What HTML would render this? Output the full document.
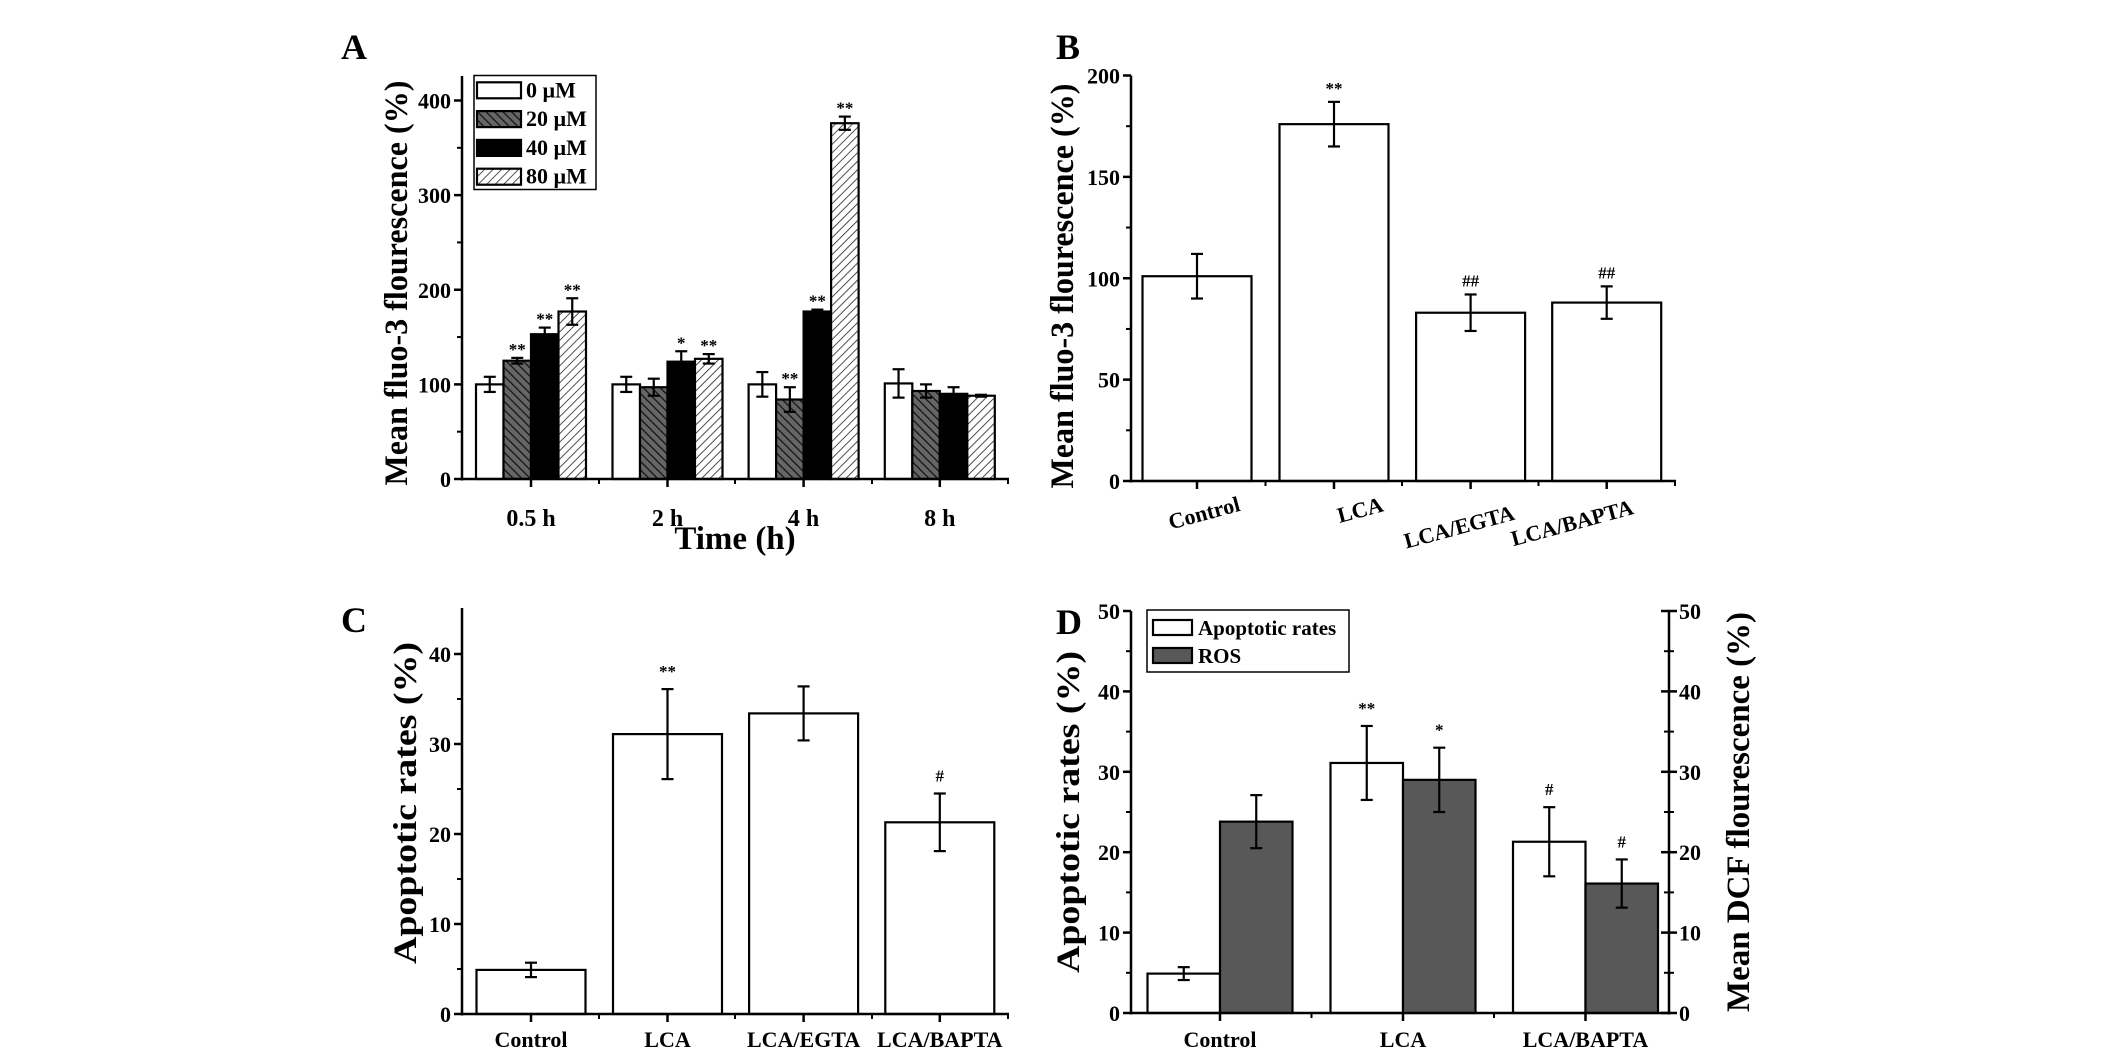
<!DOCTYPE html>
<html><head><meta charset="utf-8"><style>
html,body{margin:0;padding:0;background:#fff;overflow:hidden;}
svg{display:block;font-family:"Liberation Serif",serif;font-weight:bold;}
</style></head><body>
<svg id="fig" width="2126" height="1053" viewBox="0 0 2126 1053" xmlns="http://www.w3.org/2000/svg">
<defs>
<pattern id="hatchDark" patternUnits="userSpaceOnUse" width="6" height="6" patternTransform="rotate(-45)"><rect width="6" height="6" fill="#666"/><line x1="0" y1="0" x2="0" y2="6" stroke="#111" stroke-width="2.5"/></pattern>
<pattern id="hatchLight" patternUnits="userSpaceOnUse" width="6" height="6" patternTransform="rotate(45)"><rect width="6" height="6" fill="#fff"/><line x1="0" y1="0" x2="0" y2="6" stroke="#222" stroke-width="1.6"/></pattern>
</defs>
</svg>
<script>
// ---- Panel A data ----
const aGroups = ["0.5 h","2 h","4 h","8 h"];
const aSeries = ["0 \u00b5M","20 \u00b5M","40 \u00b5M","80 \u00b5M"];
const a0 = [100,100,100,101];
const a20 = [125,97,84,93];
const a40 = [153,124,177,90];
const a80 = [177,127,376,88];
const a0Err = [8,8,13,15];
const a20Err = [3,9,13,7];
const a40Err = [7,11,2,7];
const a80Err = [14,5,7,1];
const a0Sig = ["","","",""];
const a20Sig = ["**","","**",""];
const a40Sig = ["**","*","**",""];
const a80Sig = ["**","**","**",""];
const aTicks = [0,100,200,300,400];
// ---- Panel B data ----
const bCats = ["Control","LCA","LCA/EGTA","LCA/BAPTA"];
const bVals = [101,176,83,88];
const bErr = [11,11,9,8];
const bSig = ["","**","##","##"];
const bTicks = [0,50,100,150,200];
// ---- Panel C data ----
const cCats = ["Control","LCA","LCA/EGTA","LCA/BAPTA"];
const cVals = [4.9,31.1,33.4,21.3];
const cErr = [0.8,5,3,3.2];
const cSig = ["","**","","#"];
const cTicks = [0,10,20,30,40];
// ---- Panel D data ----
const dCats = ["Control","LCA","LCA/BAPTA"];
const dApop = [4.9,31.1,21.3];
const dApopErr = [0.8,4.6,4.3];
const dApopSig = ["","**","#"];
const dRos = [23.8,29,16.1];
const dRosErr = [3.3,4,3];
const dRosSig = ["","*","#"];
const dTicks = [0,10,20,30,40,50];

const svg = document.getElementById('fig');
const NS = "http://www.w3.org/2000/svg";
function mk(tag, attrs, parent){const e=document.createElementNS(NS,tag);for(const k in attrs)e.setAttribute(k,attrs[k]);(parent||svg).appendChild(e);return e;}
function txt(x,y,s,size,anchor,parent,extra){const t=mk('text',Object.assign({x:x,y:y,'font-size':size,'text-anchor':anchor||'middle',fill:'#000'},extra||{}),parent);t.textContent=s;return t;}
function lin(x1,y1,x2,y2,w,parent){return mk('line',{x1:x1,y1:y1,x2:x2,y2:y2,stroke:'#000','stroke-width':w||2.5},parent);}
function scale(d0,d1,r0,r1){return v=>r0+(v-d0)*(r1-r0)/(d1-d0);}
function errbar(g,x,y0,y1,cap){lin(x,y0,x,y1,2.2,g);lin(x-cap,y0,x+cap,y0,2.2,g);lin(x-cap,y1,x+cap,y1,2.2,g);}
const TF=22;

// ================= Panel A =================
(function(){
  const L=mk('g',{});
  
  
  const y=scale(0,400,479,100.5);
  const x0=462,x1=1009,top=76;
  const centers=[531,667.5,803.6,939.8];
  const bw=27.5;
  const fills=['#fff','url(#hatchDark)','#000','url(#hatchLight)'];
  const vals=[a0,a20,a40,a80], errs=[a0Err,a20Err,a40Err,a80Err], sigs=[a0Sig,a20Sig,a40Sig,a80Sig];
  for(let s=0;s<4;s++){
    for(let i=0;i<aGroups.length;i++){
      const bx=centers[i]-2*bw+s*bw;
      const r=mk('rect',{x:bx,y:y(vals[s][i]),width:bw,height:y(0)-y(vals[s][i]),fill:fills[s],stroke:'#000','stroke-width':2.2},L);
      
      
      const cx=bx+bw/2;
      errbar(L,cx,y(vals[s][i]+errs[s][i]),y(vals[s][i]-errs[s][i]),6);
      if(sigs[s][i]) txt(cx,y(vals[s][i]+errs[s][i])-3,sigs[s][i],17,'middle',L);
    }
  }
  lin(x0,top,x0,480.5,2.5,L); lin(x0-1,479,x1,479,2.5,L);
  aTicks.forEach(t=>{lin(x0-8,y(t),x0,y(t),2.5,L);txt(x0-11,y(t)+8,String(t),TF,'end',L);});
  [50,150,250,350].forEach(t=>lin(x0-5,y(t),x0,y(t),2,L));
  centers.forEach((c,i)=>{lin(c,479,c,487,2.5,L);txt(c,526,aGroups[i],24,'middle',L);});
  [599,735,872,1008].forEach(c=>lin(c,479,c,484,2,L));
  const xt=txt(735,549,'Time (h)',33,'middle',L); 
  const yt=txt(0,0,'Mean fluo-3 flourescence (%)',33,'middle',L,{transform:'translate(407,283) rotate(-90)',textLength:405,lengthAdjust:'spacingAndGlyphs'}); 
  const pl=txt(341,59,'A',36,'start',L); 
  const lg=mk('g',{},L);
  
  
  mk('rect',{x:474,y:75.5,width:122,height:114,fill:'#fff',stroke:'#000','stroke-width':1.5},lg);
  const rows=[90.3,119.1,147.9,176.7];
  for(let s=0;s<4;s++){
    const e=mk('g',{},lg);
    
    
    mk('rect',{x:477,y:rows[s]-8,width:44,height:16,fill:fills[s],stroke:'#000','stroke-width':2.2},e);
    txt(526,rows[s]+7,aSeries[s],22,'start',e);
  }
})();

// ================= Panel B =================
(function(){
  const L=mk('g',{});
  
  
  const y=scale(0,200,481,75.5);
  const x0=1131,x1=1676;
  const centers=[1197,1334,1470.6,1606.7];
  const bw=109;
  bCats.forEach((c,i)=>{
    const r=mk('rect',{x:centers[i]-bw/2,y:y(bVals[i]),width:bw,height:y(0)-y(bVals[i]),fill:'#fff',stroke:'#000','stroke-width':2.2},L);
    
    
    errbar(L,centers[i],y(bVals[i]+bErr[i]),y(bVals[i]-bErr[i]),6);
    if(bSig[i]) txt(centers[i],y(bVals[i]+bErr[i])-8,bSig[i],17,'middle',L);
  });
  lin(x0,75.5,x0,482.5,2.5,L); lin(x0-1,481,x1,481,2.5,L);
  bTicks.forEach(t=>{lin(x0-8,y(t),x0,y(t),2.5,L);txt(x0-11,y(t)+8,String(t),TF,'end',L);});
  [25,75,125,175].forEach(t=>lin(x0-5,y(t),x0,y(t),2,L));
  centers.forEach(c=>lin(c,481,c,489,2.5,L));
  [1265.5,1402,1538.5,1675].forEach(c=>lin(c,481,c,486,2,L));
  const lab=[[1206,513],[1362,510],[1461,527],[1574,523]];
  bCats.forEach((c,i)=>{txt(0,0,c,22,'middle',L,{transform:'translate('+lab[i][0]+','+(lab[i][1]+7)+') rotate(-15)'});});
  const yt=txt(0,0,'Mean fluo-3 flourescence (%)',33,'middle',L,{transform:'translate(1073,286) rotate(-90)',textLength:405,lengthAdjust:'spacingAndGlyphs'}); 
  const pl=txt(1056,59,'B',36,'start',L); 
})();

// ================= Panel C =================
(function(){
  const L=mk('g',{});
  
  
  const y=scale(0,40,1014,654);
  const x0=462,x1=1009;
  const centers=[531,667.5,803.6,939.8];
  const bw=109;
  cCats.forEach((c,i)=>{
    const r=mk('rect',{x:centers[i]-bw/2,y:y(cVals[i]),width:bw,height:y(0)-y(cVals[i]),fill:'#fff',stroke:'#000','stroke-width':2.2},L);
    
    
    errbar(L,centers[i],y(cVals[i]+cErr[i]),y(cVals[i]-cErr[i]),6);
    if(cSig[i]) txt(centers[i],y(cVals[i]+cErr[i])-12,cSig[i],17,'middle',L);
  });
  lin(x0,608,x0,1015.5,2.5,L); lin(x0-1,1014,x1,1014,2.5,L);
  cTicks.forEach(t=>{lin(x0-8,y(t),x0,y(t),2.5,L);txt(x0-11,y(t)+8,String(t),TF,'end',L);});
  [5,15,25,35].forEach(t=>lin(x0-5,y(t),x0,y(t),2,L));
  centers.forEach((c,i)=>{lin(c,1014,c,1022,2.5,L);txt(c,1047,cCats[i],22,'middle',L);});
  [599,735,872,1008].forEach(c=>lin(c,1014,c,1019,2,L));
  const yt=txt(0,0,'Apoptotic rates (%)',33,'middle',L,{transform:'translate(416,803) rotate(-90)',textLength:322,lengthAdjust:'spacingAndGlyphs'}); 
  const pl=txt(341,632,'C',36,'start',L); 
})();

// ================= Panel D =================
(function(){
  const L=mk('g',{});
  
  
  const y=scale(0,50,1013,611);
  const x0=1131,x1=1669;
  const centers=[1220,1403,1585.5];
  const bw=72.5;
  dCats.forEach((c,i)=>{
    const r1=mk('rect',{x:centers[i]-bw,y:y(dApop[i]),width:bw,height:y(0)-y(dApop[i]),fill:'#fff',stroke:'#000','stroke-width':2.2},L);
    
    
    const r2=mk('rect',{x:centers[i],y:y(dRos[i]),width:bw,height:y(0)-y(dRos[i]),fill:'#585858',stroke:'#000','stroke-width':2.2},L);
    
    
    const ax=centers[i]-bw/2, rx=centers[i]+bw/2;
    errbar(L,ax,y(dApop[i]+dApopErr[i]),y(dApop[i]-dApopErr[i]),6);
    errbar(L,rx,y(dRos[i]+dRosErr[i]),y(dRos[i]-dRosErr[i]),6);
    if(dApopSig[i]) txt(ax,y(dApop[i]+dApopErr[i])-12,dApopSig[i],17,'middle',L);
    if(dRosSig[i]) txt(rx,y(dRos[i]+dRosErr[i])-12,dRosSig[i],17,'middle',L);
  });
  lin(x0,611,x0,1014.5,2.5,L); lin(x1,611,x1,1014.5,2.5,L); lin(x0-1,1013,x1+1,1013,2.5,L);
  dTicks.forEach(t=>{
    lin(x0-8,y(t),x0,y(t),2.5,L);txt(x0-11,y(t)+8,String(t),TF,'end',L);
    lin(x1-8,y(t),x1+8,y(t),2.5,L);txt(x1+10,y(t)+8,String(t),TF,'start',L);
  });
  [5,15,25,35,45].forEach(t=>{lin(x0-5,y(t),x0,y(t),2,L);lin(x1-5,y(t),x1+5,y(t),2,L);});
  centers.forEach((c,i)=>{lin(c,1013,c,1021,2.5,L);txt(c,1047,dCats[i],22,'middle',L);});
  [1311.5,1494].forEach(c=>lin(c,1013,c,1018,2,L));
  const yt=txt(0,0,'Apoptotic rates (%)',33,'middle',L,{transform:'translate(1079,812) rotate(-90)',textLength:322,lengthAdjust:'spacingAndGlyphs'}); 
  const yt2=txt(0,0,'Mean DCF flourescence (%)',33,'middle',L,{transform:'translate(1749,812) rotate(-90)',textLength:400,lengthAdjust:'spacingAndGlyphs'}); 
  const pl=txt(1056,634,'D',36,'start',L); 
  const lg=mk('g',{},L);
  
  
  mk('rect',{x:1147,y:610,width:202,height:62,fill:'#fff',stroke:'#000','stroke-width':1.5},lg);
  const e1=mk('g',{},lg);
  
  
  mk('rect',{x:1153,y:620,width:39,height:15,fill:'#fff',stroke:'#000','stroke-width':2.2},e1);
  txt(1198,635,'Apoptotic rates',21,'start',e1);
  const e2=mk('g',{},lg);
  
  
  mk('rect',{x:1153,y:648,width:39,height:15,fill:'#585858',stroke:'#000','stroke-width':2.2},e2);
  txt(1198,663,'ROS',21,'start',e2);
})();
</script>
</body></html>
